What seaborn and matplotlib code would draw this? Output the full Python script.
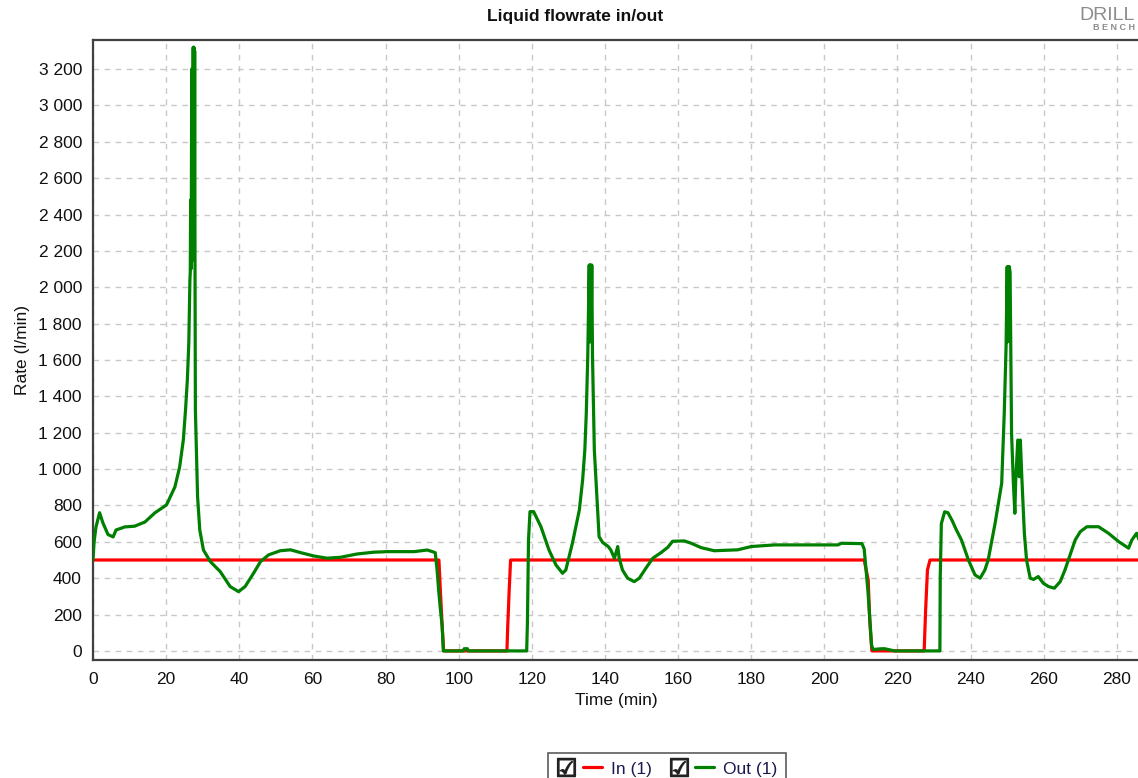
import numpy as np
import pandas as pd
import matplotlib
matplotlib.use("Agg")
import matplotlib.pyplot as plt
import seaborn as sns
from matplotlib.ticker import MultipleLocator, FuncFormatter
from matplotlib.lines import Line2D
from matplotlib.legend_handler import HandlerTuple

# ---------------- data ----------------
out_time = [0, 0.3, 0.8, 1.8, 2.7, 4.1, 5.5, 6.3, 8.7, 11.4, 14.2, 16.9, 20.1, 22.4, 23.7,
            24.7, 25.3, 25.8, 26.2, 26.5, 26.6, 26.7, 26.8, 26.9, 27.0, 27.1, 27.2, 27.3,
            27.4, 27.5, 27.6, 27.7, 27.8, 27.9, 28.0, 28.6, 29.2, 30.2, 32.1, 34.8, 37.5,
            39.8, 41.6, 43.9, 45.8, 48.0, 51.2, 54.0, 56.7, 60.4, 64.0, 67.7, 72.2, 76.8,
            80.5, 87.8, 91.4, 92.8, 93.6, 94.1, 94.5, 94.9, 95.5, 95.8, 101.3, 101.5, 102.4,
            102.6, 118.6, 118.8, 119.1, 119.5, 120.5, 122.5, 124.7, 126.6, 128.4, 129.3,
            131.1, 133.0, 133.9, 134.5, 134.9, 135.3, 135.7, 135.8, 135.9, 136.0, 136.1,
            136.2, 136.4, 136.6, 137.1, 137.8, 138.4, 139.4, 140.9, 141.6, 142.6, 143.5,
            143.9, 144.8, 146.2, 148.0, 149.4, 151.2, 153.1, 155.3, 157.2, 158.5, 161.7,
            163.6, 166.3, 169.9, 176.3, 180.0, 186.4, 203.7, 204.7, 210.3, 210.9, 211.4,
            211.9, 212.4, 212.9, 213.3, 215.8, 216.5, 219.2, 231.6, 231.7, 232.0, 232.9,
            233.8, 235.0, 236.0, 237.5, 239.4, 241.2, 242.6, 243.9, 244.8, 246.7, 248.5,
            249.2, 249.7, 250.0, 250.15, 250.3, 250.45, 250.6, 250.8, 251.0, 251.2, 251.7,
            252.1, 252.3, 252.9, 253.3, 253.6, 254.0, 254.7, 255.3, 256.3, 257.2, 258.5,
            259.9, 261.3, 262.9, 264.5, 265.8, 267.2, 268.6, 270.0, 271.8, 275.0, 277.7,
            280.5, 283.2, 284.1, 285.4, 286.1, 286.6]
out_rate = [500, 600, 680, 760, 705, 640, 627, 665, 682, 686, 709, 759, 803, 902, 1012,
            1160, 1325, 1490, 1693, 2040, 2080, 2480, 2100, 2480, 3200, 2150, 3200, 2200,
            3320, 2200, 3320, 2150, 3300, 2110, 1325, 847, 665, 555, 491, 436, 354,
            326, 354, 427, 491, 528, 551, 556, 541, 522, 510, 515, 533, 543,
            546, 546, 555, 546, 540, 445, 340, 250, 134, 0, 0, 12, 12,
            0, 0, 154, 610, 766, 766, 683, 555, 473, 427, 445,
            592, 775, 940, 1105, 1307, 1618, 2122, 1700, 2122, 1750, 2122,
            1700, 2122, 1618, 1105, 848, 628, 596, 574, 555, 510, 574,
            510, 445, 400, 381, 400, 455, 510, 540, 570, 603, 605,
            592, 568, 551, 556, 574, 583, 583, 592, 590, 560, 450,
            335, 189, 33, 8, 12, 12, 0, 0, 409, 700, 765,
            760, 715, 670, 610, 500, 418, 400, 445, 500, 702, 922,
            1307, 1673, 2113, 1700, 2113, 1750, 2113, 2080, 1655, 1197, 922,
            757, 922, 1160, 958, 1160, 958, 647, 500, 400, 393, 409,
            372, 354, 345, 381, 445, 528, 610, 656, 683, 683, 647,
            601, 565, 610, 647, 610, 555]

in_time = [0, 94.6, 95.0, 95.5, 95.9, 113.2, 113.4, 113.8, 114.2, 210.9, 212.0, 212.4,
           213.0, 227.3, 227.7, 228.2, 228.9, 290]
in_rate = [500, 500, 330, 130, 0, 0, 126, 326, 500, 500, 390, 170,
           0, 0, 225, 445, 500, 500]

y_ticks = list(range(0, 3201, 200))
x_ticks = list(range(0, 281, 20))

title = "Liquid flowrate in/out"
x_label = "Time (min)"
y_label = "Rate (l/min)"
legend_labels = ["In (1)", "Out (1)"]
logo_top = "DRILL"
logo_bottom = "B E N C H"

# ---------------- plot ----------------
sns.set_style("white")
plt.rcParams["font.family"] = ["Liberation Sans", "DejaVu Sans"]

W, H = 1138, 778
fig = plt.figure(figsize=(W / 100, H / 100), dpi=100)
ax = fig.add_axes([93 / W, 1 - 660 / H, 1 - 93 / W + 0.002, (660 - 40) / H])

df_out = pd.DataFrame({"t": out_time, "v": out_rate})
df_in = pd.DataFrame({"t": in_time, "v": in_rate})

red = "#ff0000"
green = "#008000"
sns.lineplot(data=df_in, x="t", y="v", ax=ax, color=red, lw=2.3, estimator=None,
             sort=False, zorder=3)
sns.lineplot(data=df_out, x="t", y="v", ax=ax, color=green, lw=2.3, estimator=None,
             sort=False, zorder=4)

ax.set_xlim(0, 286.4)
ax.set_ylim(-50, 3360)
ax.set_xticks(x_ticks)
ax.set_yticks(y_ticks)
ax.xaxis.set_minor_locator(MultipleLocator(4))
ax.yaxis.set_minor_locator(MultipleLocator(40))
ax.yaxis.set_major_formatter(FuncFormatter(lambda v, p: f"{v:,.0f}".replace(",", " ")))

ax.grid(True, which="major", color="#c8c8c8", ls=(0, (4, 4)), lw=1)
ax.tick_params(axis="both", which="major", direction="out", length=6, width=1,
               color="#555555", labelsize=12.5, labelcolor="#111111")
ax.tick_params(axis="both", which="minor", direction="out", length=3, width=1,
               color="#555555")
ax.tick_params(axis="x", pad=3)
ax.tick_params(axis="y", pad=2)
for s in ["left", "bottom", "top"]:
    ax.spines[s].set_color("#404040")
    ax.spines[s].set_linewidth(1.6)
ax.spines["right"].set_visible(False)

ax.set_xlabel(x_label, fontsize=12.5, color="#111111", labelpad=4)
ax.set_ylabel(y_label, fontsize=12.5, color="#111111", labelpad=6)

fig.text(575 / W, 1 - 17 / H, title, ha="center", va="center", fontsize=12.5,
         fontweight="bold", color="#111111")

# logo
fig.text(1135 / W, 1 - 15 / H, logo_top, ha="right", va="center",
         fontsize=14, color="#8c8c8c")
fig.text(1135 / W, 1 - 27 / H, logo_bottom, ha="right", va="center",
         fontsize=6.5, color="#8c8c8c", fontweight="bold")

# legend
box = Line2D([], [], ls="none", marker="$\u2611$", markersize=13, color="#222222")
h_in = Line2D([], [], color=red, lw=2.3)
h_out = Line2D([], [], color=green, lw=2.3)
leg = fig.legend([(box, h_in), (box, h_out)], legend_labels,
                 handler_map={tuple: HandlerTuple(ndivide=None, pad=0.4)},
                 loc="upper center", bbox_to_anchor=(667 / W, 1 - 744 / H),
                 ncol=2, frameon=True, fancybox=False, fontsize=12.5,
                 handlelength=2.6, handletextpad=0.5, columnspacing=1.0,
                 borderpad=0.5, labelcolor="#1a1a50")
leg.get_frame().set_edgecolor("#333333")
leg.get_frame().set_linewidth(1.2)

fig.savefig("out.png", dpi=100)
